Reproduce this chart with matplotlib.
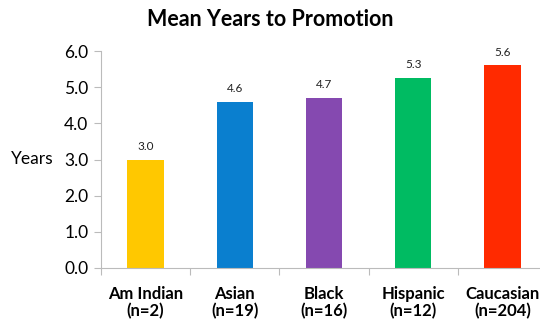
import matplotlib
matplotlib.use("Agg")
import matplotlib.pyplot as plt

categories = ["Am Indian\n(n=2)", "Asian\n(n=19)", "Black\n(n=16)", "Hispanic\n(n=12)", "Caucasian\n(n=204)"]
values = [3.0, 4.6, 4.7, 5.25, 5.6]
labels = ["3.0", "4.6", "4.7", "5.3", "5.6"]
colors = ["#FFC800", "#0A7FCF", "#8549B0", "#00BB62", "#FF2A00"]

plt.rcParams['font.family'] = ['Lato', 'DejaVu Sans']

fig = plt.figure(figsize=(5.4, 3.24), dpi=100)
ax = fig.add_axes([101/540, 1-268/324, 446/540, (268-51)/324])
x = list(range(len(categories)))
ax.bar(x, values, width=0.41, color=colors)
for xi, v, l in zip(x, values, labels):
    ax.text(xi, v + 0.22, l, ha='center', va='bottom', fontsize=8.5, color='#222222')
ax.set_xlim(-0.5, 4.5)
ax.set_ylim(0, 6)
ax.set_yticks([0, 1, 2, 3, 4, 5, 6])
ax.set_yticklabels([f"{t:.1f}" for t in range(7)], fontsize=12.5)
ax.set_xticks([-0.5, 0.5, 1.5, 2.5, 3.5, 4.5], minor=False)
ax.set_xticklabels([])
ax.set_xticks(x, minor=True)
ax.set_xticklabels(categories, minor=True, fontsize=12, fontweight='bold', linespacing=1.05)
ax.tick_params(axis='x', which='minor', length=0, pad=13)
ax.tick_params(axis='x', which='major', length=5, color='#BBBBBB', direction='out')
ax.tick_params(axis='y', length=5, color='#BBBBBB', direction='out', pad=4)
for s in ['top', 'right']:
    ax.spines[s].set_visible(False)
for s in ['left', 'bottom']:
    ax.spines[s].set_color('#BBBBBB')
ax.text(-0.107, 0.5, "Years", transform=ax.transAxes, rotation=0, fontsize=12.5, ha='right', va='center')
fig.text(270/540, 1-19/324, "Mean Years to Promotion", ha='center', va='center', fontsize=15.5, fontweight='bold')
fig.savefig("out.png", dpi=100)
